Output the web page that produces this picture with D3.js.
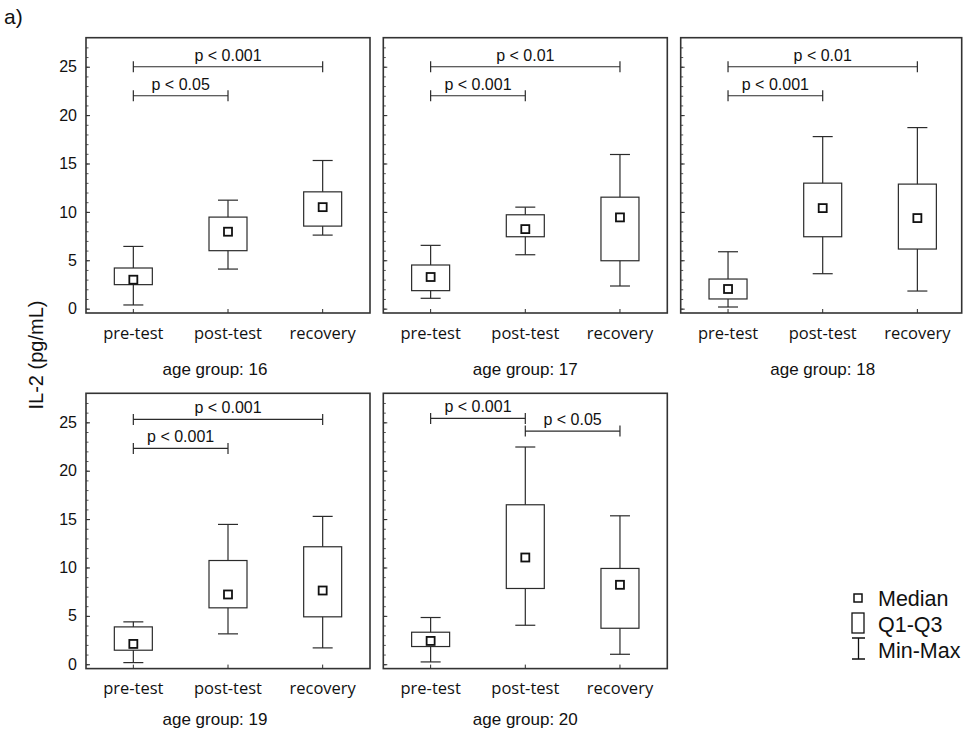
<!DOCTYPE html>
<html>
<head>
<meta charset="utf-8">
<script src="https://cdn.jsdelivr.net/npm/d3@7"></script>
<style>
    body { margin: 0; background: #fff; }
    svg { display: block; }
</style>
</head>
<body>
<div id="chart"></div>
<script>
(() => {

    // data, one entry per panel
    const phases = ['pre-test', 'post-test', 'recovery'];
    const ageGroups = [16, 17, 18, 19, 20];

    // [min, q1, median, q3, max] for pre-test, post-test, recovery
    const stats16 = [[0.38, 2.48, 2.99, 4.2, 6.43], [4.09, 5.99, 7.95, 9.46, 11.21], [7.6, 8.53, 10.49, 12.07, 15.31]];
    const stats17 = [[1.07, 1.86, 3.27, 4.51, 6.54], [5.57, 7.43, 8.22, 9.7, 10.49], [2.34, 4.95, 9.43, 11.52, 15.93]];
    const stats18 = [[0.17, 1.0, 2.03, 3.06, 5.88], [3.61, 7.43, 10.39, 12.97, 17.78], [1.82, 6.16, 9.36, 12.87, 18.71]];
    const stats19 = [[0.17, 1.45, 2.1, 3.86, 4.38], [3.14, 5.83, 7.21, 10.72, 14.45], [1.69, 4.9, 7.62, 12.14, 15.28]];
    const stats20 = [[0.24, 1.83, 2.41, 3.31, 4.83], [4.03, 7.83, 11.03, 16.48, 22.45], [1.03, 3.72, 8.21, 9.9, 15.34]];

    // significance brackets: [from, to, level, label]
    const brackets16 = [[0, 2, 25.0, 'p < 0.001'], [0, 1, 22.0, 'p < 0.05']];
    const brackets17 = [[0, 2, 25.0, 'p < 0.01'], [0, 1, 22.0, 'p < 0.001']];
    const brackets18 = [[0, 2, 25.0, 'p < 0.01'], [0, 1, 22.0, 'p < 0.001']];
    const brackets19 = [[0, 2, 25.3, 'p < 0.001'], [0, 1, 22.3, 'p < 0.001']];
    const brackets20 = [[0, 1, 25.4, 'p < 0.001'], [1, 2, 24.1, 'p < 0.05']];

    const allStats = [stats16, stats17, stats18, stats19, stats20];
    const allBrackets = [brackets16, brackets17, brackets18, brackets19, brackets20];

    const yTicks = [0, 5, 10, 15, 20, 25];
    const yDomain = [-0.45, 28];

    const svgWidth = 963;
    const svgHeight = 731;

    const colX = [86, 383.3, 680.7];
    const colW = [284, 284, 281];
    const rowY = [37.7, 393.3];
    const captionY = [62, 56.5];
    const panelH = 275.3;

    const ink = '#2b2b2b';
    const sans = 'Liberation Sans, Arial, Helvetica, sans-serif';
    const catFont = 'Open Sans, sans-serif';

    const svg = d3.select('#chart').append('svg')
        .attr('width', svgWidth)
        .attr('height', svgHeight);

    svg.append('text')
        .attr('x', 4)
        .attr('y', 24)
        .style('font-family', sans)
        .style('font-size', '21px')
        .attr('fill', '#111')
        .text('a)');

    svg.append('text')
        .attr('transform', 'translate(43,355) rotate(-90)')
        .style('text-anchor', 'middle')
        .style('font-family', sans)
        .style('font-size', '20px')
        .attr('fill', '#111')
        .text('IL-2 (pg/mL)');

    ageGroups.forEach((age, i) => {

        const col = i % 3;
        const row = Math.floor(i / 3);
        const w = colW[col];
        const h = panelH;

        const g = svg.append('g')
            .attr('transform', `translate(${colX[col]},${rowY[row]})`);

        const x = d3.scaleBand()
            .domain(phases)
            .range([0, 284])
            .padding(0);

        const y = d3.scaleLinear()
            .domain(yDomain)
            .range([h, 0]);

        const cx = d => x(d) + x.bandwidth() / 2;

        // minor ticks, inward
        g.append('g')
            .call(d3.axisLeft(y).tickValues(d3.range(0, 28, 1)).tickSize(-2.5).tickFormat(''))
            .call(a => a.select('.domain').remove())
            .selectAll('line').attr('stroke', ink).attr('stroke-width', 0.8);

        // major ticks
        const yAxis = g.append('g')
            .call(d3.axisLeft(y).tickValues(yTicks).tickSize(-4).tickPadding(9)
                .tickFormat(col === 0 ? d3.format('d') : ''));
        yAxis.select('.domain').remove();
        yAxis.selectAll('line').attr('stroke', ink).attr('stroke-width', 1);
        yAxis.selectAll('text')
            .attr('fill', '#111')
            .style('font-family', sans)
            .style('font-size', '16px');

        const xAxis = g.append('g')
            .attr('transform', `translate(0,${h})`)
            .call(d3.axisBottom(x).tickSize(-4));
        xAxis.select('.domain').remove();
        xAxis.selectAll('line').attr('stroke', ink).attr('stroke-width', 1);
        xAxis.selectAll('text')
            .attr('fill', '#111')
            .attr('y', 25.5)
            .attr('dy', 0)
            .style('font-family', catFont)
            .style('font-size', '16.5px');

        // caption is centred on the panel plus its tick labels in the first column
        g.append('text')
            .attr('x', col === 0 ? 129 : 142)
            .attr('y', h + captionY[row])
            .style('text-anchor', 'middle')
            .style('font-family', sans)
            .style('font-size', '17px')
            .attr('fill', '#111')
            .text(`age group: ${age}`);

        const stats = allStats[i];
        const boxW = 38;
        const capW = 20;

        const box = g.selectAll('.box')
            .data(stats)
            .enter()
            .append('g')
            .attr('class', 'box');

        box.append('line')
            .attr('x1', (d, j) => cx(phases[j]))
            .attr('x2', (d, j) => cx(phases[j]))
            .attr('y1', d => y(d[0]))
            .attr('y2', d => y(d[4]))
            .attr('stroke', ink)
            .attr('stroke-width', 1.2);

        [0, 4].forEach(k => {
            box.append('line')
                .attr('x1', (d, j) => cx(phases[j]) - capW / 2)
                .attr('x2', (d, j) => cx(phases[j]) + capW / 2)
                .attr('y1', d => y(d[k]))
                .attr('y2', d => y(d[k]))
                .attr('stroke', ink)
                .attr('stroke-width', 1.2);
        });

        box.append('rect')
            .attr('x', (d, j) => cx(phases[j]) - boxW / 2)
            .attr('y', d => y(d[3]))
            .attr('width', boxW)
            .attr('height', d => y(d[1]) - y(d[3]))
            .attr('fill', '#fff')
            .attr('stroke', ink)
            .attr('stroke-width', 1.2);

        box.append('rect')
            .attr('x', (d, j) => cx(phases[j]) - 4)
            .attr('y', d => y(d[2]) - 4)
            .attr('width', 8)
            .attr('height', 8)
            .attr('fill', '#fff')
            .attr('stroke', '#111')
            .attr('stroke-width', 1.8);

        // significance brackets
        const br = g.selectAll('.bracket')
            .data(allBrackets[i])
            .enter()
            .append('g')
            .attr('class', 'bracket');

        br.append('path')
            .attr('d', d => {
                const x1 = cx(phases[d[0]]);
                const x2 = cx(phases[d[1]]);
                const yy = y(d[2]);
                return `M${x1},${yy - 5.5}V${yy + 5.5}M${x1},${yy}H${x2}M${x2},${yy - 5.5}V${yy + 5.5}`;
            })
            .attr('fill', 'none')
            .attr('stroke', ink)
            .attr('stroke-width', 1.2);

        br.append('text')
            .attr('x', d => (cx(phases[d[0]]) + cx(phases[d[1]])) / 2)
            .attr('y', d => y(d[2]) - 6)
            .style('text-anchor', 'middle')
            .style('font-family', sans)
            .style('font-size', '16px')
            .attr('fill', '#111')
            .text(d => d[3]);

        // frame
        g.append('rect')
            .attr('width', w)
            .attr('height', h)
            .attr('fill', 'none')
            .attr('stroke', '#333')
            .attr('stroke-width', 1.6);
    });

    // legend
    const legend = svg.append('g')
        .attr('transform', 'translate(858,598)');

    legend.append('rect')
        .attr('x', -4).attr('y', -4).attr('width', 8).attr('height', 8)
        .attr('fill', '#fff').attr('stroke', '#111').attr('stroke-width', 1.5);

    legend.append('rect')
        .attr('x', -6).attr('y', 15).attr('width', 12).attr('height', 20)
        .attr('fill', '#fff').attr('stroke', '#111').attr('stroke-width', 1.3);

    legend.append('path')
        .attr('d', 'M-6,40H7M0.5,40V61M-6,61H7')
        .attr('fill', 'none').attr('stroke', '#111').attr('stroke-width', 1.3);

    legend.selectAll('.lbl')
        .data(['Median', 'Q1-Q3', 'Min-Max'])
        .enter()
        .append('text')
        .attr('class', 'lbl')
        .attr('x', 20)
        .attr('y', (d, j) => 8 + j * 26)
        .style('font-family', sans)
        .style('font-size', '21.5px')
        .attr('fill', '#111')
        .text(d => d);
})();
</script>
</body>
</html>
